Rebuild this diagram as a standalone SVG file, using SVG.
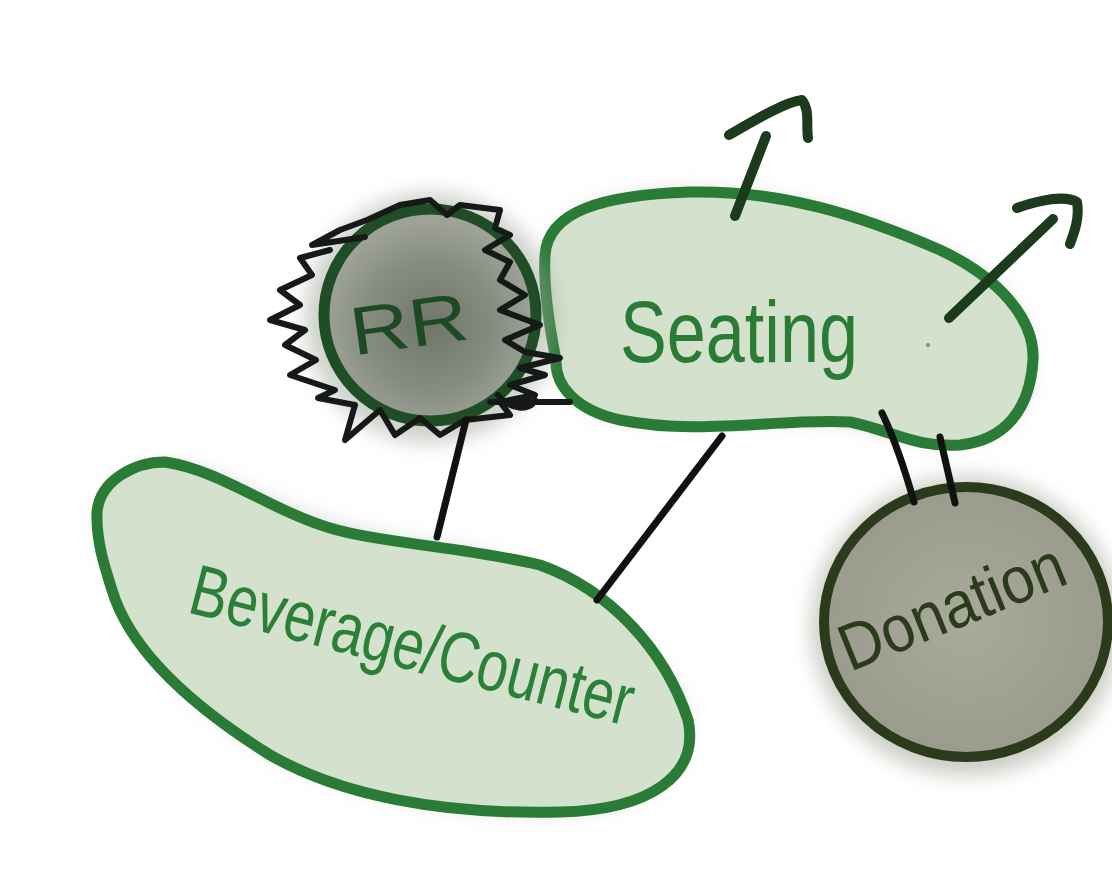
<svg xmlns="http://www.w3.org/2000/svg" width="1112" height="892" viewBox="0 0 1112 892">
<defs>
<filter id="soft" x="-20%" y="-20%" width="140%" height="140%"><feGaussianBlur stdDeviation="10"/></filter>
<radialGradient id="rrFill" cx="0.5" cy="0.55" r="0.5">
<stop offset="0" stop-color="#6f7569"/><stop offset="0.6" stop-color="#878c81"/><stop offset="1" stop-color="#9ea297"/>
</radialGradient>
<radialGradient id="donFill" cx="0.5" cy="0.5" r="0.5">
<stop offset="0" stop-color="#a9aa9c"/><stop offset="1" stop-color="#9a9b8d"/>
</radialGradient>
<style>
.blob{fill:#d3e1cd;stroke:#2a7b36;stroke-width:11;stroke-linejoin:round}
.shadow{fill:#b4bdae;opacity:0.5}
.conn{fill:none;stroke:#111;stroke-width:7;stroke-linecap:round}
.arrow{fill:none;stroke:#1b3b1c;stroke-width:10;stroke-linecap:round;stroke-linejoin:round}
.lbl{font-family:"Liberation Sans","DejaVu Sans",sans-serif}
</style>
</defs>
<rect width="1112" height="892" fill="#fff"/>

<g id="beverage">
<path class="shadow" filter="url(#soft)" d="M100,515 C110,470 160,455 200,470 C280,500 320,530 440,545 C560,565 640,630 680,700 C710,760 650,810 560,812 C440,815 330,790 250,740 C170,690 110,600 100,515 Z"/>
<path class="blob" d="M97,512 C100,480 135,462 165,462 C220,470 270,510 330,528 C380,543 470,548 540,565 C610,590 665,650 688,720 C700,775 650,810 560,812 C440,815 340,795 270,755 C190,705 130,650 112,590 C104,565 96,540 97,512 Z"/>
<text class="lbl" transform="translate(186,612) rotate(14.5)" font-size="72" textLength="455" lengthAdjust="spacingAndGlyphs" fill="#2a8036">Beverage/Counter</text>
</g>

<g id="seating">
<path class="shadow" filter="url(#soft)" d="M548,250 C560,200 640,188 720,192 C800,196 880,225 960,260 C1020,290 1040,340 1025,400 C1010,445 930,450 880,430 C820,410 700,430 600,412 C560,405 545,340 548,250 Z"/>
<path class="blob" d="M545,255 C548,212 600,195 690,192 C780,190 860,215 940,250 C1000,278 1035,320 1033,360 C1030,410 1005,440 960,445 C915,448 890,430 850,422 C780,418 700,436 620,420 C575,410 555,385 556,360 C550,330 543,290 545,255 Z"/>
<text class="lbl" x="620" y="362" font-size="88" textLength="238" lengthAdjust="spacingAndGlyphs" fill="#2a7b36">Seating</text>
<circle cx="928" cy="345" r="2" fill="#7a8a76"/>
<path class="arrow" d="M735,216 L766,136"/>
<path class="arrow" d="M729,135 C755,120 785,102 802,100 C810,110 806,125 808,138"/>
<path class="arrow" d="M949,318 L1053,219"/>
<path class="arrow" d="M1017,208 C1040,200 1065,195 1077,202 C1080,220 1073,235 1070,244"/>
</g>

<g id="rr">
<circle cx="430" cy="318" r="125" fill="#9ca096" opacity="0.5" filter="url(#soft)"/>
<circle cx="430" cy="315" r="106" fill="url(#rrFill)" stroke="#1f4d25" stroke-width="11"/>
<text class="lbl" x="350" y="348" font-size="68" textLength="118" lengthAdjust="spacingAndGlyphs" fill="#1d4a22" transform="rotate(-8 405 325)">RR</text>
<path fill="none" stroke="#161a16" stroke-width="6" stroke-linecap="round" stroke-linejoin="round" d="M365,237 L312,245 L340,230 L367,220 L400,205 L430,200 L447,215 L460,205 L500,210 L495,228 L510,235 L485,250 L510,262 L500,280 L525,295 L500,310 L540,325 L505,340 L525,352 L560,358 L520,368 L545,375 L510,385 L535,395 L500,402 L510,415 L465,420 L440,435 L420,418 L395,435 L380,410 L345,440 L355,405 L318,398 L335,390 L290,375 L316,360 L285,345 L305,330 L270,320 L300,305 L280,290 L312,275 L300,258 L330,250"/>
<path fill="none" stroke="#161a16" stroke-width="6" stroke-linecap="round" d="M490,402 L570,402 M498,395 C510,410 530,412 535,400"/>
</g>

<g id="donation">
<ellipse cx="966" cy="626" rx="155" ry="150" fill="#9a9b8d" opacity="0.5" filter="url(#soft)"/>
<ellipse cx="966" cy="622" rx="142" ry="135" fill="url(#donFill)" stroke="#2b3a1b" stroke-width="10"/>
<text class="lbl" transform="translate(850,672) rotate(-22)" font-size="66" textLength="238" lengthAdjust="spacingAndGlyphs" fill="#2b3a1b">Donation</text>
</g>

<g id="connectors">
<path class="conn" d="M466,420 L437,537"/>
<path class="conn" d="M722,436 L597,600"/>
<path class="conn" d="M882,413 C895,440 905,470 914,502"/>
<path class="conn" d="M940,437 C945,460 950,480 955,503"/>
</g>
</svg>
